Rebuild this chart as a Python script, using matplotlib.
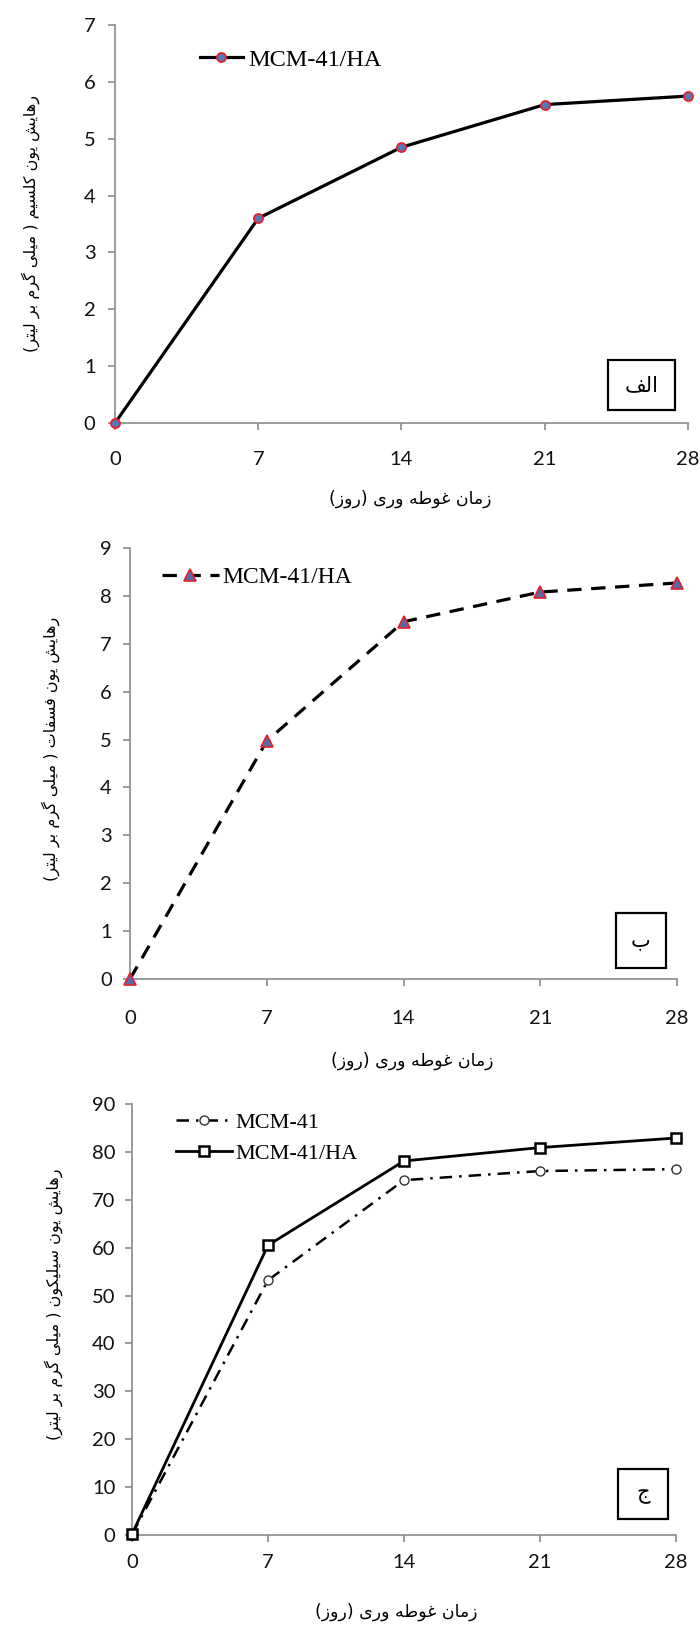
import matplotlib
matplotlib.use("Agg")
import matplotlib.pyplot as plt
from matplotlib.patches import Rectangle

# immersion time (days)
days = [0, 7, 14, 21, 28]
day_ticks = ['0', '7', '14', '21', '28']

# released ions (mg/L)
calcium_ha = [0.0, 3.6, 4.85, 5.6, 5.75]
phosphate_ha = [0.0, 4.97, 7.46, 8.08, 8.27]
silicon_mcm = [0.1, 53.2, 74.1, 76.0, 76.4]
silicon_ha = [0.2, 60.5, 78.1, 80.9, 82.9]

ylabel_ca = "رهایش یون کلسیم ( میلی گرم بر لیتر)"
ylabel_p = "رهایش یون فسفات ( میلی گرم بر لیتر)"
ylabel_si = "رهایش یون سیلیکون ( میلی گرم بر لیتر)"
xlabel_txt = "زمان غوطه وری (روز)"
panel_tags = ["الف", "ب", "ج"]

# matplotlib has no arabic shaping, so pick presentation forms by hand
# letter: (isolated, final, initial, medial)
FORMS = {
    'ا': ('\uFE8D', '\uFE8E', None, None),
    'ب': ('\uFE8F', '\uFE90', '\uFE91', '\uFE92'),
    'ت': ('\uFE95', '\uFE96', '\uFE97', '\uFE98'),
    'ج': ('\uFE9D', '\uFE9E', '\uFE9F', '\uFEA0'),
    'ر': ('\uFEAD', '\uFEAE', None, None),
    'ز': ('\uFEAF', '\uFEB0', None, None),
    'س': ('\uFEB1', '\uFEB2', '\uFEB3', '\uFEB4'),
    'ش': ('\uFEB5', '\uFEB6', '\uFEB7', '\uFEB8'),
    'ط': ('\uFEC1', '\uFEC2', '\uFEC3', '\uFEC4'),
    'غ': ('\uFECD', '\uFECE', '\uFECF', '\uFED0'),
    'ف': ('\uFED1', '\uFED2', '\uFED3', '\uFED4'),
    'ل': ('\uFEDD', '\uFEDE', '\uFEDF', '\uFEE0'),
    'م': ('\uFEE1', '\uFEE2', '\uFEE3', '\uFEE4'),
    'ن': ('\uFEE5', '\uFEE6', '\uFEE7', '\uFEE8'),
    'ه': ('\uFEE9', '\uFEEA', '\uFEEB', '\uFEEC'),
    'و': ('\uFEED', '\uFEEE', None, None),
    'ک': ('\uFB8E', '\uFB8F', '\uFB90', '\uFB91'),
    'گ': ('\uFB92', '\uFB93', '\uFB94', '\uFB95'),
    'ی': ('\uFBFC', '\uFBFD', '\uFBFE', '\uFBFF'),
}
MIRROR = {'(': ')', ')': '('}


def fa(s):
    out = []
    for i, c in enumerate(s):
        if c not in FORMS:
            out.append(MIRROR.get(c, c))
            continue
        prev = s[i - 1] if i > 0 else ''
        nxt = s[i + 1] if i + 1 < len(s) else ''
        join_prev = prev in FORMS and FORMS[prev][2] is not None
        join_next = nxt in FORMS and FORMS[c][2] is not None
        iso, fin, ini, med = FORMS[c]
        if join_prev and join_next:
            out.append(med)
        elif join_prev:
            out.append(fin)
        elif join_next:
            out.append(ini)
        else:
            out.append(iso)
    return ''.join(reversed(out))


W, H = 700, 1629
fig = plt.figure(figsize=(W / 100, H / 100), dpi=100)
fig.patch.set_facecolor('white')

TICKFONT = 'Lato'
SERIF = 'Liberation Serif'
FAFONT = 'DejaVu Sans'
GREY = '#8a8a8a'


def make_axes(x0, x1, y0, y1):
    # pixel box -> figure fraction
    return fig.add_axes([x0 / W, 1 - y0 / H, (x1 - x0) / W, (y0 - y1) / H])


def style(ax, ymax, ystep, xpad, ypad):
    ax.set_xlim(0, 28)
    ax.set_ylim(0, ymax)
    ax.set_xticks(days)
    ax.set_xticklabels(day_ticks)
    ax.set_yticks(range(0, ymax + 1, ystep))
    for s in ['top', 'right']:
        ax.spines[s].set_visible(False)
    for s in ['left', 'bottom']:
        ax.spines[s].set_color(GREY)
        ax.spines[s].set_linewidth(1.2)
    ax.tick_params(axis='both', color=GREY, length=5, width=1.2,
                   labelsize=14.5, labelcolor='#111111')
    ax.tick_params(axis='x', pad=xpad)
    ax.tick_params(axis='y', pad=ypad)
    for lab in ax.get_xticklabels() + ax.get_yticklabels():
        lab.set_family(TICKFONT)
    ax.set_facecolor('none')


def tag_box(x0, y0, x1, y1, txt):
    fig.add_artist(Rectangle((x0 / W, 1 - y1 / H), (x1 - x0) / W, (y1 - y0) / H,
                             transform=fig.transFigure, fill=False,
                             edgecolor='black', linewidth=1.6))
    fig.text((x0 + x1) / 2 / W, 1 - (y0 + y1) / 2 / H, fa(txt),
             ha='center', va='center', fontsize=15, family=FAFONT)


# ---- panel 1 : calcium ----
ax1 = make_axes(115, 688, 423, 25)
ax1.plot(days, calcium_ha, color='black', lw=2.3, marker='o', ms=6.5,
         mfc='#5877b8', mec='#e8202a', mew=1.3, clip_on=False,
         label='MCM-41/HA', zorder=3)
style(ax1, 7, 1, 15, 9)
ax1.legend(loc='center left', bbox_to_anchor=(200 / W, 1 - 60 / H),
           bbox_transform=fig.transFigure, frameon=False, borderpad=0,
           borderaxespad=0, handlelength=1.75, handletextpad=0.25,
           prop={'family': SERIF, 'size': 17.5})
fig.text(31 / W, 1 - 223 / H, fa(ylabel_ca), rotation=90, ha='center',
         va='center', fontsize=11.5, family=FAFONT)
fig.text(410 / W, 1 - 499 / H, fa(xlabel_txt), ha='center', va='center',
         fontsize=12.5, family=FAFONT)
tag_box(608, 360, 675, 410, panel_tags[0])

# ---- panel 2 : phosphate ----
ax2 = make_axes(130, 677, 979, 548)
ax2.plot(days, phosphate_ha, color='black', lw=2.3, dashes=(4.5, 3),
         marker='^', ms=9, mfc='#5868a8', mec='#e8202a', mew=1.2,
         clip_on=False, label='MCM-41/HA', zorder=3)
style(ax2, 9, 1, 17, 8)
ax2.legend(loc='center left', bbox_to_anchor=(162 / W, 1 - 577 / H),
           bbox_transform=fig.transFigure, frameon=False, borderpad=0,
           borderaxespad=0, handlelength=2.4, handletextpad=0.15,
           prop={'family': SERIF, 'size': 17})
fig.text(51 / W, 1 - 749 / H, fa(ylabel_p), rotation=90, ha='center',
         va='center', fontsize=11.5, family=FAFONT)
fig.text(412 / W, 1 - 1061 / H, fa(xlabel_txt), ha='center', va='center',
         fontsize=12.5, family=FAFONT)
tag_box(616, 913, 666, 968, panel_tags[1])

# ---- panel 3 : silicon ----
ax3 = make_axes(132, 676, 1535, 1104)
ax3.plot(days, silicon_mcm, color='black', lw=1.8, dashes=(5, 2.8, 1, 2.8),
         marker='o', ms=6.5, mfc='white', mec='#333333', mew=1.0,
         clip_on=False, label='MCM-41', zorder=3)
ax3.plot(days, silicon_ha, color='black', lw=2.0, marker='s', ms=7.5,
         mfc='white', mec='black', mew=1.8, clip_on=False,
         label='MCM-41/HA', zorder=4)
style(ax3, 90, 10, 9, 7)
ax3.legend(loc='center left', bbox_to_anchor=(176 / W, 1 - 1138 / H),
           bbox_transform=fig.transFigure, frameon=False, borderpad=0,
           borderaxespad=0, handlelength=2.5, handletextpad=0.15,
           labelspacing=0.45, prop={'family': SERIF, 'size': 16})
fig.text(54 / W, 1 - 1304 / H, fa(ylabel_si), rotation=90, ha='center',
         va='center', fontsize=11.5, family=FAFONT)
fig.text(396 / W, 1 - 1612 / H, fa(xlabel_txt), ha='center', va='center',
         fontsize=12.5, family=FAFONT)
tag_box(618, 1469, 668, 1519, panel_tags[2])

fig.savefig('out.png', dpi=100, facecolor='white')
